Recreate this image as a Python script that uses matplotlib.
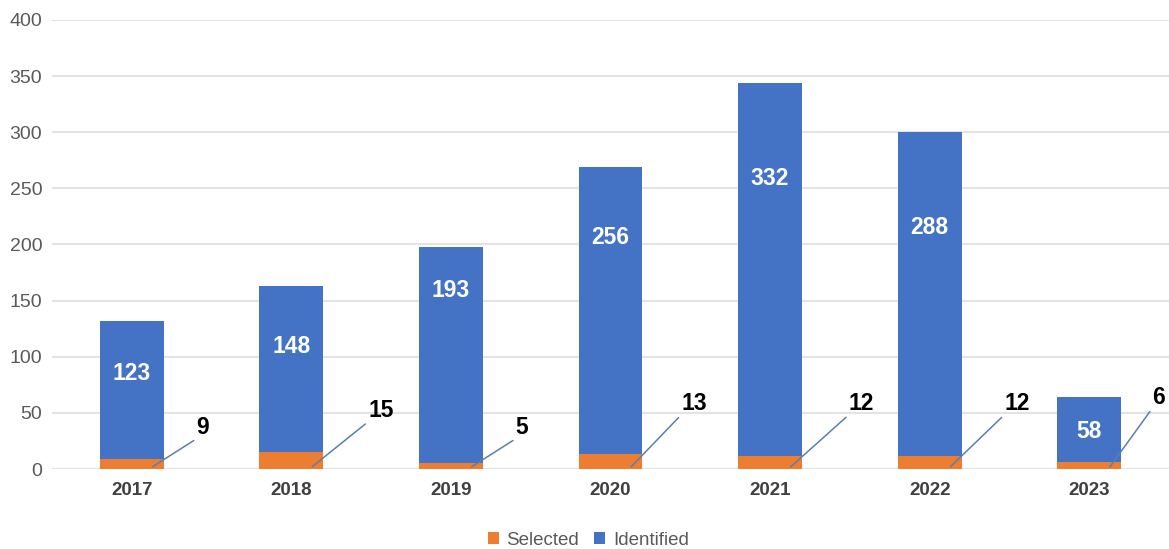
import matplotlib.pyplot as plt
import numpy as np

plt.rcParams['font.family'] = ['Liberation Sans', 'DejaVu Sans']

years = ['2017', '2018', '2019', '2020', '2021', '2022', '2023']
selected = [9, 15, 5, 13, 12, 12, 6]
identified = [123, 148, 193, 256, 332, 288, 58]

# label placement (data units for identified, pixel offsets for selected callouts)
ident_label_y = [85, 109, 159, 206, 259, 215, 33]
sel_label_off = [(44, 28), (56, 45), (44, 28), (50, 52), (58, 52), (54, 52), (42, 58)]

orange = '#ED7D31'
blue = '#4472C4'

fig = plt.figure(figsize=(11.69, 5.49), dpi=100)
ax = fig.add_axes([0.0445, 0.1457, 0.9555, 0.8179])

x = np.arange(len(years))
w = 0.4
ax.bar(x, selected, w, color=orange, label='Selected', zorder=3)
ax.bar(x, identified, w, bottom=selected, color=blue, label='Identified', zorder=3)

for i in range(len(years)):
    ax.text(x[i], ident_label_y[i], str(identified[i]), ha='center', va='center',
            color='white', fontsize=16.5, fontweight='bold', zorder=4)
    ax.annotate(str(selected[i]), xy=(x[i] + 0.13, 2), xycoords='data',
                xytext=sel_label_off[i], textcoords='offset pixels',
                fontsize=16.5, fontweight='bold', color='black',
                ha='left', va='bottom',
                arrowprops=dict(arrowstyle='-', color='#5a7fb0', lw=1.1,
                                shrinkA=0, shrinkB=0, relpos=(0, 0)),
                zorder=5)

ax.set_xlim(-0.5, len(years) - 0.5)
ax.set_ylim(0, 400)
ax.set_yticks(range(0, 401, 50))
ax.set_xticks(x)
ax.set_xticklabels(years, fontsize=13.5, fontweight='bold', color='#404040')
ax.tick_params(axis='y', labelsize=14, colors='#595959', length=0, pad=7)
ax.tick_params(axis='x', length=0, pad=9)

ax.grid(axis='y', color='#e3e3e3', linewidth=1.5, zorder=0)
for s in ax.spines.values():
    s.set_visible(False)

ax.legend(loc='lower center', bbox_to_anchor=(0.48, -0.215), ncol=2, frameon=False,
          fontsize=13.5, handlelength=0.6, handleheight=0.6, handletextpad=0.4,
          columnspacing=0.8, labelcolor='#595959')

plt.savefig('out.png', dpi=100)
